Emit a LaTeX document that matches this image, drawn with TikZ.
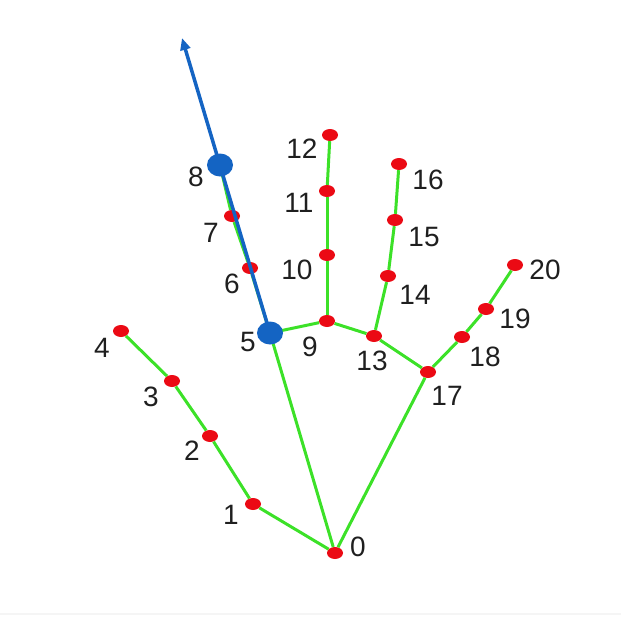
\documentclass[tikz,border=0pt]{standalone}
\usepackage{fontspec}
\setmainfont{Liberation Sans}
\usepackage{xcolor}
\usepackage{tikz}
\usetikzlibrary{arrows.meta,shapes.geometric}

\definecolor{bonegreen}{RGB}{60,225,40}
\definecolor{kpred}{RGB}{235,10,20}
\definecolor{raysblue}{RGB}{20,100,195}

\begin{document}
\begin{tikzpicture}[x=1pt, y=-1pt,
    kp/.style={ellipse, fill=kpred, inner sep=0pt, minimum width=16pt, minimum height=12pt},
    bigkp/.style={ellipse, fill=raysblue, inner sep=0pt, minimum width=26pt, minimum height=23pt},
    num/.style={font=\fontsize{28}{28}\selectfont, text=black!88, inner sep=0pt},
    bone/.style={draw=bonegreen, line width=3pt},
    ray/.style={draw=raysblue, line width=3.5pt, -{Triangle[length=12pt, width=10pt]}}]

    \useasboundingbox (0,0) rectangle (621,616);
    \draw[black!4, line width=1.5pt] (0,614) -- (621,614);

    % keypoints
    \node[kp] (k0) at (335,553) {};
    \node[kp] (k1) at (253,504) {};
    \node[kp] (k2) at (210,436) {};
    \node[kp] (k3) at (172,381) {};
    \node[kp] (k4) at (121,331) {};
    \node[kp] (k5) at (270,333) {};
    \node[kp] (k6) at (250,268) {};
    \node[kp] (k7) at (232,216) {};
    \node[kp] (k8) at (220,165) {};
    \node[kp] (k9) at (327,321) {};
    \node[kp] (k10) at (327,255) {};
    \node[kp] (k11) at (327,191) {};
    \node[kp] (k12) at (330,135) {};
    \node[kp] (k13) at (374,336) {};
    \node[kp] (k14) at (388,276) {};
    \node[kp] (k15) at (395,220) {};
    \node[kp] (k16) at (399,164) {};
    \node[kp] (k17) at (428,372) {};
    \node[kp] (k18) at (462,337) {};
    \node[kp] (k19) at (486,309) {};
    \node[kp] (k20) at (515,265) {};

    % skeleton
    \draw[bone] (k0) -- (k1); \draw[bone] (k1) -- (k2); \draw[bone] (k2) -- (k3); \draw[bone] (k3) -- (k4);
    \draw[bone] (k0) -- (k5); \draw[bone] (k5) -- (k6); \draw[bone] (k6) -- (k7); \draw[bone] (k7) -- (k8);
    \draw[bone] (k5) -- (k9); \draw[bone] (k9) -- (k10); \draw[bone] (k10) -- (k11); \draw[bone] (k11) -- (k12);
    \draw[bone] (k9) -- (k13); \draw[bone] (k13) -- (k14); \draw[bone] (k14) -- (k15); \draw[bone] (k15) -- (k16);
    \draw[bone] (k13) -- (k17); \draw[bone] (k17) -- (k18); \draw[bone] (k18) -- (k19); \draw[bone] (k19) -- (k20);
    \draw[bone] (k0) -- (k17);

    % index finger direction
    \coordinate (tip) at (182,38);
    \draw[ray] (k5.center) -- (tip);
    \node[bigkp] (b5) at (k5) {};
    \node[bigkp] (b8) at (k8) {};

    % numbers
    \node[num] (l0) at (358,547) {0};
    \node[num] (l1) at (231,515) {1};
    \node[num] (l2) at (192,451) {2};
    \node[num] (l3) at (151,397) {3};
    \node[num] (l4) at (102,348) {4};
    \node[num] (l5) at (248,342) {5};
    \node[num] (l6) at (232,284) {6};
    \node[num] (l7) at (211,233) {7};
    \node[num] (l8) at (196,177) {8};
    \node[num] (l9) at (310,347) {9};
    \node[num] (l10) at (297,270) {10};
    \node[num] (l11) at (299,203) {11};
    \node[num] (l12) at (302,149) {12};
    \node[num] (l13) at (372,361) {13};
    \node[num] (l14) at (415,295) {14};
    \node[num] (l15) at (424,237) {15};
    \node[num] (l16) at (428,180) {16};
    \node[num] (l17) at (447,396) {17};
    \node[num] (l18) at (485,357) {18};
    \node[num] (l19) at (515,319) {19};
    \node[num] (l20) at (545,270) {20};
\end{tikzpicture}
\end{document}
